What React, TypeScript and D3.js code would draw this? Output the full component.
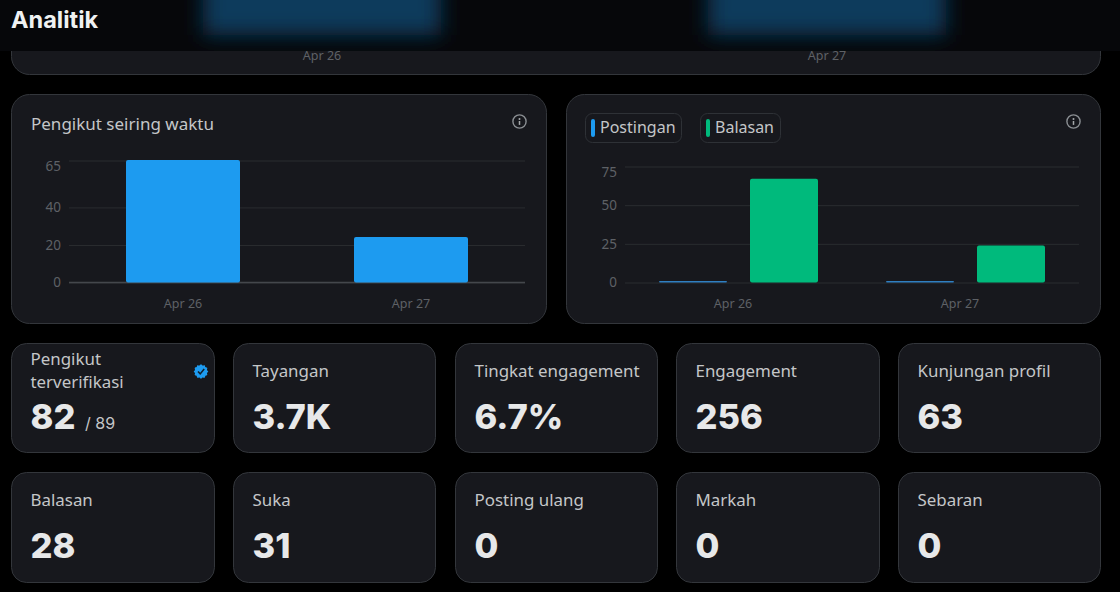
import React, { useEffect, useRef } from 'react'
import * as d3 from 'd3'

// top chart, mostly hidden behind the header
const topDays = ['Apr 26', 'Apr 27']
const topViews = [1900, 1800]

const followerDays = ['Apr 26', 'Apr 27']
const followerValues = [65, 24]
const followerTicks = [0, 20, 40, 65]

const replyDays = ['Apr 26', 'Apr 27']
const replySeries = ['Postingan', 'Balasan']
const postValues = [1, 1]
const replyValues = [67, 24]
const replyTicks = [0, 25, 50, 75]

const statLabelsTop = [['Pengikut', 'terverifikasi'], ['Tayangan'], ['Tingkat engagement'], ['Engagement'], ['Kunjungan profil']]
const statValuesTop = ['82', '3.7K', '6.7%', '256', '63']
const statLabelsBottom = ['Balasan', 'Suka', 'Posting ulang', 'Markah', 'Sebaran']
const statValuesBottom = ['28', '31', '0', '0', '0']

const BLUE = '#1d9bf0'
const GREEN = '#00ba7c'
const CARD = '#17181d'
const BORDER = '#33363b'
const GRID = '#2a2c30'
const TICK = '#5e6166'
const LABEL = '#c4c6c8'
const VALUE = '#e7e8e9'
const FONT = '"Noto Sans", Inter, sans-serif'
const TITLE_FONT = 'Inter, Roboto, sans-serif'

type G = d3.Selection<SVGGElement, unknown, null, undefined>

function card(g: G, x0: number, y0: number, x1: number, y1: number, r: number) {
  g.append('rect')
    .attr('x', x0 + 0.5)
    .attr('y', y0 + 0.5)
    .attr('width', x1 - x0 - 1)
    .attr('height', y1 - y0 - 1)
    .attr('rx', r)
    .attr('fill', CARD)
    .attr('stroke', BORDER)
}

function infoIcon(g: G, cx: number, cy: number) {
  const icon = g.append('g').attr('transform', `translate(${cx},${cy})`)
  icon.append('circle').attr('r', 6.6).attr('fill', 'none').attr('stroke', '#8b8f93').attr('stroke-width', 1.4)
  icon.append('circle').attr('cy', -2.6).attr('r', 1).attr('fill', '#a5a8ab')
  icon.append('line').attr('y1', -0.5).attr('y2', 3.4).attr('stroke', '#a5a8ab').attr('stroke-width', 1.5)
}

// y gridlines and tick labels, drawn with d3's own axis
function yAxis(g: G, y: d3.ScaleLinear<number, number>, ticks: number[], x0: number, x1: number) {
  const top = d3.max(ticks)
  const axis = g
    .append('g')
    .attr('transform', `translate(${x0},0)`)
    .call(d3.axisLeft(y).tickValues(ticks).tickSize(x0 - x1).tickPadding(8))
  axis.select('.domain').remove()
  axis.selectAll('line').attr('stroke', GRID)
  axis
    .selectAll<SVGTextElement, number>('text')
    .attr('fill', TICK)
    .attr('font-family', FONT)
    .attr('font-size', 13.5)
    .attr('dy', '0.32em')
    // the top label sits below its gridline
    .attr('y', (d) => (d === top ? 6 : 0))
}

function xAxis(g: G, x: d3.ScaleBand<string>, y: number, dx: number) {
  const axis = g
    .append('g')
    .attr('transform', `translate(${dx},${y})`)
    .call(d3.axisBottom(x).tickSize(0).tickPadding(16))
  axis.select('.domain').remove()
  axis.selectAll('text').attr('fill', TICK).attr('font-family', FONT).attr('font-size', 12.5)
}

function statCard(g: G, x0: number, x1: number, y0: number, y1: number, label: string[], value: string) {
  card(g, x0, y0, x1, y1, 15)
  const tx = x0 + 19.5
  const lines = label.length
  label.forEach((line, i) => {
    g.append('text')
      .attr('x', tx)
      .attr('y', y0 + (lines > 1 ? 22 + i * 23 : 33.5))
      .attr('fill', LABEL)
      .attr('font-family', FONT)
      .attr('font-size', 16.9)
      .text(line)
  })
  g.append('text')
    .attr('x', tx)
    .attr('y', y0 + 86)
    .attr('fill', VALUE)
    .attr('font-family', TITLE_FONT)
    .attr('font-weight', 800)
    .attr('font-size', 34.5)
    .text(value)
}

export default function App() {
  const svgRef = useRef<SVGSVGElement>(null)

  useEffect(() => {
    if (!svgRef.current) return
    d3.select(svgRef.current).selectAll('*').remove()
    const svg = d3.select(svgRef.current)
    const root = svg.append('g') as unknown as G

    const defs = svg.append('defs')
    defs
      .append('filter')
      .attr('id', 'headerBlur')
      .attr('x', '-30%')
      .attr('y', '-30%')
      .attr('width', '160%')
      .attr('height', '160%')
      .append('feGaussianBlur')
      .attr('stdDeviation', 10)
    defs.append('clipPath').attr('id', 'headerClip').append('rect').attr('width', 1120).attr('height', 51)

    // top card, scrolled under the header
    card(root, 11, -40, 1101, 75, 18)
    const topX = d3.scaleBand<string>().domain(topDays).range([69.5, 1079.5]).paddingInner(0.53).paddingOuter(0.265)
    const topY = d3.scaleLinear().domain([0, 1900]).range([35, -120])
    const topAxis = root.append('g') as unknown as G
    xAxis(topAxis, topX, 35, 0)

    root.append('rect').attr('width', 1120).attr('height', 51).attr('fill', '#06070a')
    const blurred = root.append('g').attr('clip-path', 'url(#headerClip)').append('g').attr('filter', 'url(#headerBlur)')
    blurred
      .selectAll('rect')
      .data(topDays)
      .join('rect')
      .attr('x', (d) => topX(d) || 0)
      .attr('width', topX.bandwidth())
      .attr('y', (_, i) => topY(topViews[i]))
      .attr('height', (_, i) => topY(0) - topY(topViews[i]))
      .attr('fill', '#0b3a5c')
    root
      .append('text')
      .attr('x', 11)
      .attr('y', 28)
      .attr('fill', '#eff1f2')
      .attr('font-family', TITLE_FONT)
      .attr('font-weight', 700)
      .attr('font-size', 23.5)
      .text('Analitik')

    // followers over time
    card(root, 11, 94, 547, 324, 18)
    root
      .append('text')
      .attr('x', 31)
      .attr('y', 129.5)
      .attr('fill', LABEL)
      .attr('font-family', FONT)
      .attr('font-size', 17)
      .text('Pengikut seiring waktu')
    infoIcon(root, 519.5, 121.5)
    const fx = d3.scaleBand<string>().domain(followerDays).range([69, 525]).paddingInner(0.5).paddingOuter(0.25)
    const fy = d3.scaleLinear().domain([0, 65]).range([282.5, 160.5])
    yAxis(root, fy, followerTicks, 69, 525)
    root.append('line').attr('x1', 69).attr('x2', 525).attr('y1', fy(0)).attr('y2', fy(0)).attr('stroke', '#44474c').attr('stroke-width', 1.5)
    root
      .append('g')
      .selectAll('rect')
      .data(followerValues)
      .join('rect')
      .attr('x', (_, i) => fx(followerDays[i]) || 0)
      .attr('width', fx.bandwidth())
      .attr('y', (d) => fy(d) - 0.5)
      .attr('height', (d) => fy(0) - fy(d) + 0.5)
      .attr('rx', 2)
      .attr('fill', BLUE)
    xAxis(root, fx, 283, 0)

    // posts and replies
    card(root, 566, 94, 1101, 324, 18)
    infoIcon(root, 1073.5, 121.5)
    const chipEdges = [
      [585, 682],
      [700, 781],
    ]
    replySeries.forEach((name, i) => {
      const [a, b] = chipEdges[i]
      root.append('rect').attr('x', a + 0.5).attr('y', 113.5).attr('width', b - a - 1).attr('height', 29).attr('rx', 7).attr('fill', 'none').attr('stroke', '#2e3136')
      root.append('rect').attr('x', a + 6).attr('y', 119).attr('width', 4).attr('height', 18).attr('rx', 2).attr('fill', i === 0 ? BLUE : GREEN)
      root.append('text').attr('x', a + 15).attr('y', 133).attr('fill', LABEL).attr('font-family', FONT).attr('font-size', 16).text(name)
    })
    const rx0 = d3.scaleBand<string>().domain(replyDays).range([625, 1079])
    const rx1 = d3.scaleBand<string>().domain(replySeries).range([34, 193]).paddingInner(0.2527)
    const ry = d3.scaleLinear().domain([0, 75]).range([282.5, 166.5])
    yAxis(root, ry, replyTicks, 625, 1079)
    replySeries.forEach((name, s) => {
      const vals = s === 0 ? postValues : replyValues
      root
        .append('g')
        .selectAll('rect')
        .data(vals)
        .join('rect')
        .attr('x', (_, i) => (rx0(replyDays[i]) || 0) + (rx1(name) || 0))
        .attr('width', rx1.bandwidth())
        .attr('y', (d) => ry(d))
        .attr('height', (d) => ry(0) - ry(d))
        .attr('rx', s === 0 ? 1 : 2)
        .attr('fill', s === 0 ? '#2f7fc1' : GREEN)
    })
    xAxis(root, rx0, 283, -5.5)

    // stat cards
    const colEdges = [
      [11, 215],
      [233, 436],
      [455, 658],
      [676, 880],
      [898, 1101],
    ]
    statLabelsTop.forEach((label, i) => statCard(root, colEdges[i][0], colEdges[i][1], 343, 453, label, statValuesTop[i]))
    statLabelsBottom.forEach((label, i) => statCard(root, colEdges[i][0], colEdges[i][1], 472, 583, [label], statValuesBottom[i]))

    // "/ 89" next to the verified count
    root.append('text').attr('x', 85).attr('y', 429).attr('fill', LABEL).attr('font-family', TITLE_FONT).attr('font-size', 16).text('/ 89')

    // verified badge
    const badgeRadius = d3.range(24).map((i) => [(i / 24) * Math.PI * 2, i % 2 ? 6.2 : 7.2] as [number, number])
    const badge = root.append('g').attr('transform', 'translate(201,371.5)')
    badge.append('path').attr('d', d3.lineRadial().curve(d3.curveCardinalClosed)(badgeRadius) || '').attr('fill', BLUE)
    badge.append('path').attr('d', 'M-3,0L-0.8,2.4L3.2,-2.4').attr('fill', 'none').attr('stroke', '#10202e').attr('stroke-width', 1.6)
  }, [])

  return (
    <svg
      ref={svgRef}
      width={1120}
      height={592}
      style={{ position: 'fixed', left: 0, top: 0, background: '#000', display: 'block' }}
    />
  )
}
